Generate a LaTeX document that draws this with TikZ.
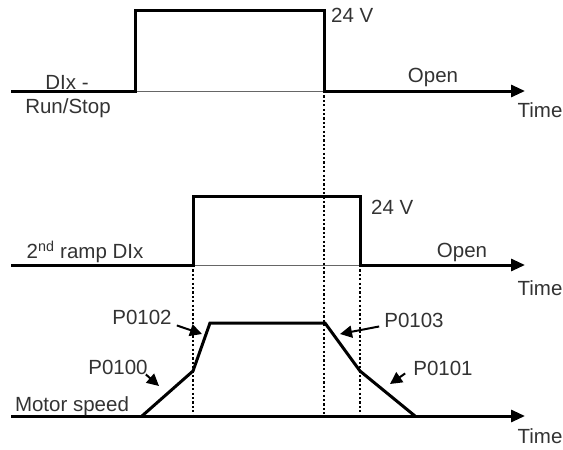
\documentclass[tikz,border=0pt]{standalone}
\usepackage{fontspec}
\setmainfont{Liberation Sans}
\usetikzlibrary{arrows.meta, positioning, calc}

\begin{document}
\begin{tikzpicture}[x=1pt, y=-1pt, >={Triangle[length=14pt, width=12pt]},
    font=\fontsize{20.5}{24}\selectfont, text=black!80,
    signal/.style={line width=3pt, line join=miter},
    baseline/.style={line width=0.8pt, black!60},
    axis/.style={line width=3pt, ->},
    guide/.style={line width=1.4pt, dash pattern=on 2.2pt off 2.2pt},
    callout/.style={line width=2pt, -{Triangle[length=12pt, width=12pt]}},
    lbl/.style={inner sep=1pt}]
    \useasboundingbox (0,0) rectangle (563,450);

    % DIx - Run/Stop
    \coordinate (ra0) at (11,91);
    \coordinate (ra1) at (135,91);
    \coordinate (ra2) at (135,10);
    \coordinate (ra3) at (324,10);
    \coordinate (ra4) at (324,91);
    \coordinate (ra5) at (525,91);
    \draw[baseline] (ra1) -- (ra4);
    \draw[signal] (ra0) -- (ra1) -- (ra2) -- (ra3) -- (ra4);
    \draw[axis] (ra4) -- (ra5);
    \node[lbl, anchor=west] (ra24) at (330,15) {24 V};
    \node[lbl] (radi) at (67,82) {DIx -};
    \node[lbl] (rarun) at (68,108) {Run/Stop};
    \node[lbl] (raopen) at (433,77) {Open};
    \node[lbl] (ratime) at (540,110) {Time};

    % 2nd ramp DIx
    \coordinate (sb0) at (11,265);
    \coordinate (sb1) at (193,265);
    \coordinate (sb2) at (193,196);
    \coordinate (sb3) at (360,196);
    \coordinate (sb4) at (360,265);
    \coordinate (sb5) at (525,265);
    \draw[baseline] (sb1) -- (sb4);
    \draw[signal] (sb0) -- (sb1) -- (sb2) -- (sb3) -- (sb4);
    \draw[axis] (sb4) -- (sb5);
    \node[lbl, anchor=west] (sb24) at (370,207) {24 V};
    \node[lbl] (sbdi) at (85,252) {2\textsuperscript{nd} ramp DIx};
    \node[lbl] (sbopen) at (462,252) {Open};
    \node[lbl] (sbtime) at (540,288) {Time};

    % Motor speed
    \coordinate (mc0) at (11,416);
    \coordinate (mc5) at (525,416);
    \coordinate (sp0) at (142,416);
    \coordinate (sp1) at (193,371);
    \coordinate (sp2) at (210,323);
    \coordinate (sp3) at (325,323);
    \coordinate (sp4) at (360,371);
    \coordinate (sp5) at (415,416);
    \draw[axis] (mc0) -- (mc5);
    \draw[signal] (sp0) -- (sp1) -- (sp2) -- (sp3) -- (sp4) -- (sp5);
    \node[lbl] (mcname) at (72,406) {Motor speed};
    \node[lbl] (mctime) at (540,436) {Time};

    % guides
    \draw[guide] (ra4) -- (ra4 |- mc0);
    \draw[guide] (sb1) -- (sb1 |- mc0);
    \draw[guide] (sb4) -- (sb4 |- mc0);

    % ramp parameters
    \node[lbl] (p102) at (142,317) {P0102};
    \node[lbl] (p100) at (118,367) {P0100};
    \node[lbl] (p103) at (414,320) {P0103};
    \node[lbl] (p101) at (443,368) {P0101};
    \coordinate (t102) at (202,334);
    \coordinate (t100) at (159,386);
    \coordinate (t103) at (340,334);
    \coordinate (t101) at (390,384);
    \draw[callout] ([shift={(4,0)}]p102.south east) -- (t102);
    \draw[callout] ([shift={(-3,-1)}]p100.south east) -- (t100);
    \draw[callout] ([shift={(-4,-2)}]p103.south west) -- (t103);
    \draw[callout] ([shift={(-7,-3)}]p101.south west) -- (t101);
\end{tikzpicture}
\end{document}
